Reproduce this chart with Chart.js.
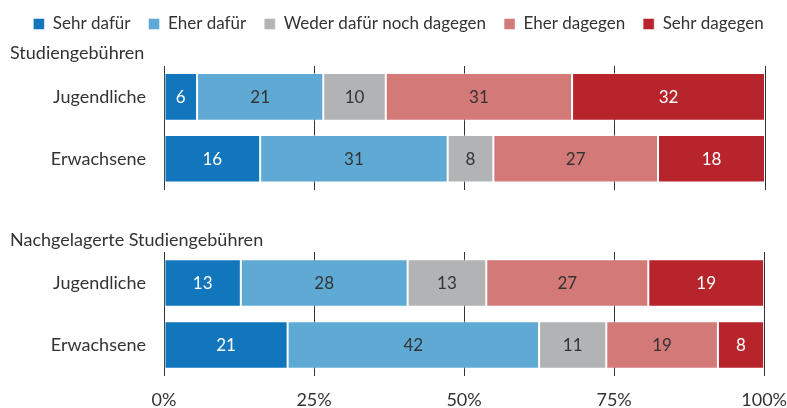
<!DOCTYPE html>
<html>
<head>
<meta charset="utf-8">
<script src="https://cdn.jsdelivr.net/npm/chart.js@4/dist/chart.umd.min.js"></script>
<style>
  body { margin: 0; background: #fff; }
  #wrap { position: relative; width: 787px; height: 408px; overflow: hidden; }
  #oben { position: absolute; left: 0; top: -3px; }
  #unten { position: absolute; left: 0; top: 196px; }
</style>
</head>
<body>
<div id="wrap">
  <canvas id="oben" width="787" height="203"></canvas>
  <canvas id="unten" width="787" height="213"></canvas>
</div>
<script>
const gruppen = ["Studiengebühren", "Nachgelagerte Studiengebühren"];
const befragte = ["Jugendliche", "Erwachsene"];
const antworten = ["Sehr dafür", "Eher dafür", "Weder dafür noch dagegen", "Eher dagegen", "Sehr dagegen"];
const farben = ["#1276bc", "#5eaad4", "#b1b3b4", "#d37978", "#b7242c"];
const textFarben = ["#fff", "#333", "#333", "#333", "#fff"];
const xTicks = [0, 25, 50, 75, 100];

// Anteile in % je Antwort (Reihenfolge wie antworten)
const studJugendliche = [5.5, 21.0, 10.4, 31.0, 32.1];
const studErwachsene = [16.0, 31.2, 7.6, 27.4, 17.8];
const nachJugendliche = [12.8, 27.8, 13.1, 27.0, 19.3];
const nachErwachsene = [20.6, 41.9, 11.2, 18.6, 7.7];

const schrift = "Lato";
const grau = "#333";

// Zahlen mittig in die Balken schreiben
const balkenBeschriftung = {
    id: "balkenBeschriftung",
    afterDatasetsDraw(chart) {
        const ctx = chart.ctx;
        ctx.save();
        ctx.font = "17px " + schrift;
        ctx.textAlign = "center";
        ctx.textBaseline = "middle";
        chart.data.datasets.forEach((ds, i) => {
            chart.getDatasetMeta(i).data.forEach((bar, j) => {
                ctx.fillStyle = textFarben[i];
                ctx.fillText(Math.round(ds.data[j]), (bar.x + bar.base) / 2, bar.y + 1);
            });
        });
        ctx.restore();
    }
};

function balkenChart(id, titel, jug, erw, oben) {
    const datasets = antworten.map((a, i) => ({
        label: a,
        data: [jug[i], erw[i]],
        backgroundColor: farben[i],
        borderColor: "rgba(255,255,255,0.45)",
        borderWidth: 1,
        borderSkipped: false,
        categoryPercentage: 0.77,
        barPercentage: 1
    }));

    return new Chart(document.getElementById(id), {
        type: "bar",
        data: { labels: befragte, datasets: datasets },
        options: {
            indexAxis: "y",
            responsive: false,
            animation: false,
            layout: { padding: { left: 10, right: 0, top: oben ? 0.5 : 0, bottom: oben ? 10.4 : 0 } },
            plugins: {
                legend: {
                    display: oben,
                    align: "center",
                    labels: {
                        boxWidth: 11,
                        boxHeight: 11,
                        padding: 18,
                        color: grau,
                        font: { family: schrift, size: 17 }
                    }
                },
                title: {
                    display: true,
                    text: titel,
                    align: "start",
                    weight: 500,
                    color: grau,
                    font: { family: schrift, size: 18, weight: "normal", lineHeight: 1 },
                    padding: oben ? { top: 1.5, bottom: 4 } : { top: 35, bottom: 3 }
                },
                tooltip: { enabled: false }
            },
            scales: {
                x: {
                    stacked: true,
                    min: 0,
                    max: 100,
                    afterBuildTicks: s => { s.ticks = xTicks.map(v => ({ value: v })); },
                    grid: {
                        color: grau,
                        lineWidth: 1,
                        drawTicks: !oben,
                        tickLength: 15,
                        tickColor: "rgba(0,0,0,0)"
                    },
                    border: { display: false },
                    ticks: {
                        display: !oben,
                        padding: 0,
                        color: grau,
                        font: { family: schrift, size: 18, lineHeight: 1 },
                        callback: v => v + "%"
                    }
                },
                y: {
                    stacked: true,
                    grid: { display: false, drawTicks: true, tickLength: 18 },
                    border: { display: false },
                    ticks: {
                        padding: 0,
                        color: grau,
                        font: { family: schrift, size: 18, lineHeight: 1 }
                    },
                    afterFit: s => { s.width = 154; }
                },
                rechts: {
                    position: "right",
                    type: "linear",
                    grid: { display: false, drawTicks: false },
                    border: { display: false },
                    ticks: { display: false },
                    afterFit: s => { s.width = 22; }
                }
            }
        },
        plugins: [balkenBeschriftung]
    });
}

balkenChart("oben", gruppen[0], studJugendliche, studErwachsene, true);
balkenChart("unten", gruppen[1], nachJugendliche, nachErwachsene, false);
</script>
</body>
</html>
